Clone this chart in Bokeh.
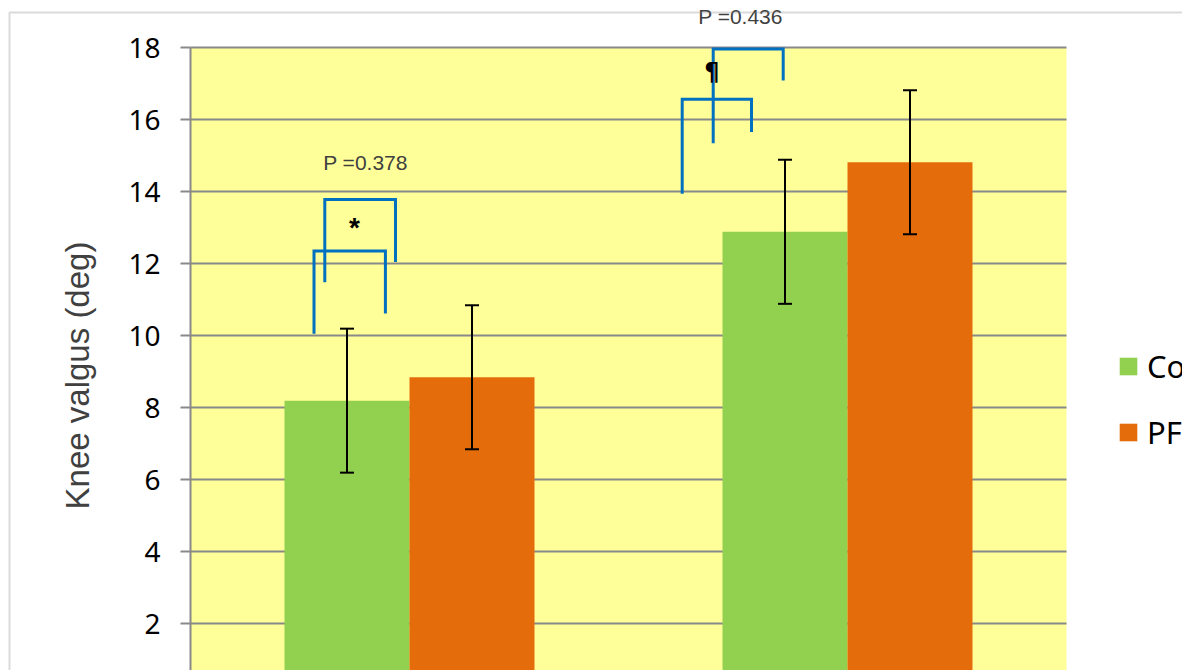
import math
from bokeh.plotting import figure
from bokeh.models import (ColumnDataSource, Range1d, FixedTicker, Whisker, TeeHead,
                          Legend, LegendItem, LinearAxis, BoxAnnotation)
from bokeh.core.properties import value
from bokeh.embed import file_html
from bokeh.resources import INLINE

# --- data -------------------------------------------------------------
group_pos = [0.5, 1.5]            # centre of each task group on the x scale
control_mean = [8.19, 12.88]      # knee valgus, control group (deg)
control_sd = [2.0, 2.0]
pfp_mean = [8.84, 14.81]          # knee valgus, PFP group (deg)
pfp_sd = [2.0, 2.0]
y_ticks = [2, 4, 6, 8, 10, 12, 14, 16, 18]
series_names = ["Control", "PFP"]
p_values = ["P =0.378", "P =0.436"]
y_title = "Knee valgus (deg)"

# --- styling ----------------------------------------------------------
YELLOW = "#FFFF99"
GREEN = "#92D050"
ORANGE = "#E46C0A"
BLUE = "#0070C0"
GRID = "#898989"
BORDER = "#858585"
BAR_W = 0.2854
PX_X = 438.0   # pixels per x unit (one task group)
PX_Y = 36.0    # pixels per degree
W, H = 1182, 670

# The frame fills the whole canvas; the plot area spans x 0..2 and y ..18,
# with the y axis pinned at x = 0.
x0 = -190 / PX_X
y1 = 18 + 47 / PX_Y
p = figure(width=W, height=H, output_backend="svg", toolbar_location=None,
           x_range=Range1d(x0, x0 + W / PX_X), y_range=Range1d(y1 - H / PX_Y, y1),
           x_axis_location=None, y_axis_location=None,
           min_border=0, background_fill_color="white",
           border_fill_color="white", outline_line_color=None)
p.grid.visible = False

# plot-area fill
p.add_layout(BoxAnnotation(left=0, right=2, top=18, fill_color=YELLOW, fill_alpha=1,
                           line_color=None, level="underlay"))

# horizontal gridlines across the plot area
p.segment(x0=[0] * len(y_ticks), x1=[2] * len(y_ticks), y0=y_ticks, y1=y_ticks,
          line_color=GRID, line_width=2)

ax = LinearAxis(fixed_location=0, bounds=(-1, 18))
ax.ticker = FixedTicker(ticks=y_ticks)
ax.axis_line_color = GRID
ax.axis_line_width = 2
ax.major_tick_line_color = GRID
ax.major_tick_line_width = 2
ax.major_tick_out = 10
ax.major_tick_in = 0
ax.minor_tick_line_color = None
ax.major_label_text_font = "Noto Sans"
ax.major_label_text_font_size = "28px"
ax.major_label_text_color = "black"
ax.major_label_standoff = 20
p.add_layout(ax, "left")

# axis title, centred on the full plot-area height
p.text(x=[-113 / PX_X], y=[18 - 328 / PX_Y], text=[y_title], angle=math.pi / 2,
       text_font=value("Liberation Sans"), text_font_size="33px",
       text_color="#404040", text_align="center", text_baseline="alphabetic")

# --- bars -------------------------------------------------------------
ctrl_src = ColumnDataSource(dict(
    x=[g - BAR_W / 2 for g in group_pos], top=control_mean,
    upper=[m + s for m, s in zip(control_mean, control_sd)],
    lower=[m - s for m, s in zip(control_mean, control_sd)]))
pfp_src = ColumnDataSource(dict(
    x=[g + BAR_W / 2 for g in group_pos], top=pfp_mean,
    upper=[m + s for m, s in zip(pfp_mean, pfp_sd)],
    lower=[m - s for m, s in zip(pfp_mean, pfp_sd)]))

r_ctrl = p.vbar(x="x", top="top", bottom=-5, width=BAR_W, source=ctrl_src,
                fill_color=GREEN, line_color=None)
r_pfp = p.vbar(x="x", top="top", bottom=-5, width=BAR_W, source=pfp_src,
               fill_color=ORANGE, line_color=None)

for src in (ctrl_src, pfp_src):
    p.add_layout(Whisker(source=src, base="x", upper="upper", lower="lower",
                         level="annotation", line_color="black", line_width=2,
                         upper_head=TeeHead(size=14, line_color="black", line_width=2),
                         lower_head=TeeHead(size=14, line_color="black", line_width=2)))

# --- significance brackets ---------------------------------------------
bracket_xs = [[0.282, 0.282, 0.445, 0.445],
              [0.3066, 0.3066, 0.468, 0.468],
              [1.1226, 1.1226, 1.2808, 1.2808],
              [1.1934, 1.1934, 1.3532, 1.3532]]
bracket_ys = [[10.05, 12.35, 12.35, 10.61],
              [11.48, 13.78, 13.78, 12.04],
              [13.94, 16.56, 16.56, 15.65],
              [15.34, 17.96, 17.96, 17.08]]
p.multi_line(xs=bracket_xs, ys=bracket_ys, line_color=BLUE, line_width=3,
             line_join="miter")

p.text(x=[0.3744], y=[13.0], text=["*"], text_font=value("Liberation Sans"),
       text_font_size="28px", text_font_style="bold", text_color="black",
       text_align="center", text_baseline="middle")
p.text(x=[1.1906], y=[17.31], text=["¶"], text_font=value("DejaVu Sans"),
       text_font_size="24px", text_font_style="bold", text_color="black",
       text_align="center", text_baseline="middle")

p.text(x=[0.3995, 1.2557], y=[14.81, 18.86], text=p_values,
       text_font=value("Liberation Sans"), text_font_size="21px",
       text_color="#404040", text_align="center", text_baseline="middle")

# --- chart-area border ------------------------------------------------
p.add_layout(BoxAnnotation(left=(9 - 190) / PX_X, right=5, top=18 + 35 / PX_Y,
                           bottom=-5, fill_alpha=0, line_color=BORDER, line_width=2,
                           level="overlay"))

# --- legend -----------------------------------------------------------
legend = Legend(items=[LegendItem(label=series_names[0], renderers=[r_ctrl]),
                       LegendItem(label=series_names[1], renderers=[r_pfp])],
                location=(1117, 217), orientation="vertical",
                border_line_alpha=0, background_fill_alpha=0,
                padding=0, margin=0, spacing=24,
                glyph_width=22, glyph_height=22, label_height=22,
                label_standoff=8, label_text_font="Noto Sans",
                label_text_font_size="31px", label_text_color="black")
p.add_layout(legend)

open("out.html", "w").write(file_html(p, INLINE))
